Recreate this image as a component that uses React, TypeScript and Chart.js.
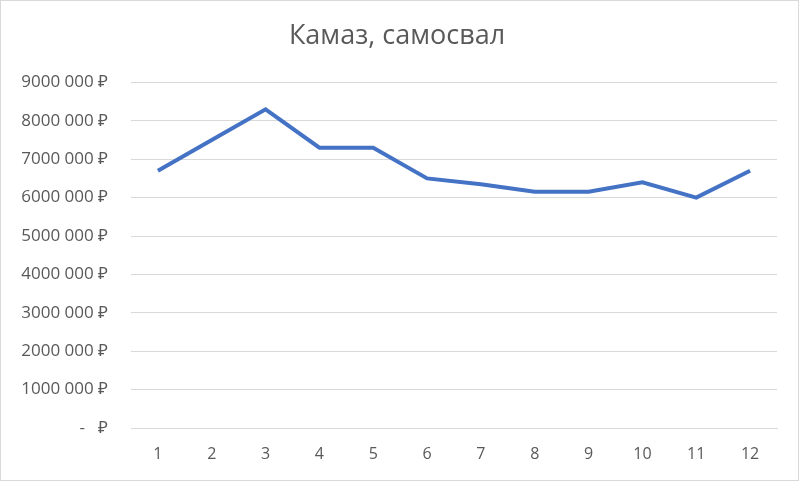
import React, { useEffect, useRef } from "react";
import { Chart, registerables } from "chart.js";

Chart.register(...registerables);

const categories = ["1", "2", "3", "4", "5", "6", "7", "8", "9", "10", "11", "12"];
const values = [6700000, 7500000, 8300000, 7300000, 7300000, 6500000, 6350000, 6150000, 6150000, 6400000, 6000000, 6700000];
const titleText = "Камаз, самосвал";

const FONT = "'Open Sans', 'Noto Sans', sans-serif";

function fmt(v: number): string {
  if (v === 0) return "-   \u20BD";
  const m = Math.floor(v / 1000000);
  const rest = String(Math.round(v % 1000000)).padStart(6, "0");
  return `${m}${rest.slice(0, 3)} ${rest.slice(3)} \u20BD`;
}

const framePlugin = {
  id: "frame",
  beforeDraw(chart: any) {
    const ctx = chart.ctx;
    ctx.save();
    ctx.fillStyle = "#ffffff";
    ctx.fillRect(0, 0, chart.width, chart.height);
    ctx.strokeStyle = "#d9d9d9";
    ctx.lineWidth = 1;
    ctx.strokeRect(0.5, 0.5, chart.width - 2, chart.height - 3);
    ctx.restore();
  },
};

export default function App() {
  const ref = useRef<HTMLCanvasElement>(null);
  useEffect(() => {
    if (!ref.current) return;
    const chart = new Chart(ref.current, {
      type: "line",
      data: {
        labels: categories,
        datasets: [
          {
            data: values,
            borderColor: "#4472C4",
            borderWidth: 4,
            pointRadius: 0,
            tension: 0,
            fill: false,
          },
        ],
      },
      plugins: [framePlugin],
      options: {
        animation: false,
        responsive: false,
        layout: { padding: { left: 17, right: 23, top: 0, bottom: 0 } },
        plugins: {
          legend: { display: false },
          tooltip: { enabled: false },
          title: {
            display: true,
            text: titleText,
            color: "#595959",
            font: { family: FONT, size: 27, weight: "normal" },
            padding: { top: 20, bottom: 30 },
          },
        },
        scales: {
          x: {
            offset: true,
            grid: { display: false, drawTicks: false },
            border: { display: true, color: "#d9d9d9", width: 1 },
            ticks: { color: "#595959", font: { family: FONT, size: 16 }, padding: 17, maxRotation: 0 },
            afterFit(scale: any) {
              scale.height = 55;
            },
          },
          y: {
            min: 0,
            max: 9000000,
            grid: { color: "#d9d9d9", drawTicks: false, lineWidth: 1 },
            border: { display: false },
            ticks: {
              stepSize: 1000000,
              color: "#595959",
              font: { family: FONT, size: 17 },
              padding: 23,
              callback: (v: any) => fmt(Number(v)),
            },
            afterFit(scale: any) {
              scale.width = 114;
            },
          },
        },
      },
    });
    return () => chart.destroy();
  }, []);
  return (
    <div style={{ position: "fixed", left: 0, top: 0, width: 800, height: 483, background: "#fff" }}>
      <canvas ref={ref} width={800} height={483} style={{ width: 800, height: 483, display: "block" }} />
    </div>
  );
}
